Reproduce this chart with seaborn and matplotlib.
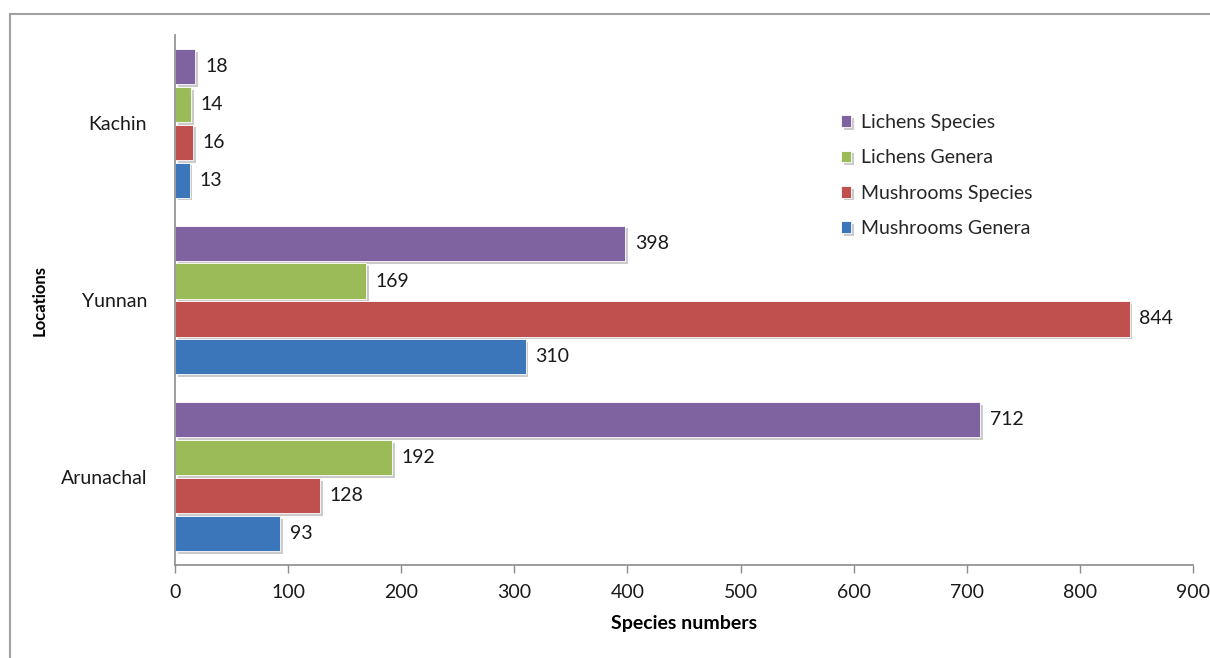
import matplotlib
matplotlib.use("Agg")
import matplotlib.pyplot as plt
import matplotlib.patheffects as pe
from matplotlib.patches import Rectangle
import seaborn as sns
import pandas as pd

locations = ["Kachin", "Yunnan", "Arunachal"]
series = ["Lichens Species", "Lichens Genera", "Mushrooms Species", "Mushrooms Genera"]
lichens_species = [18, 398, 712]
lichens_genera = [14, 169, 192]
mushrooms_species = [16, 844, 128]
mushrooms_genera = [13, 310, 93]
colors = ["#7F63A1", "#9BBB59", "#C0504D", "#3A76B9"]
x_ticks = [0, 100, 200, 300, 400, 500, 600, 700, 800, 900]

values = [lichens_species, lichens_genera, mushrooms_species, mushrooms_genera]
rows = []
for s, vals in zip(series, values):
    for loc, v in zip(locations, vals):
        rows.append({"Location": loc, "Series": s, "Value": v})
df = pd.DataFrame(rows)

sns.set_theme(style="white")
plt.rcParams["font.family"] = ["Lato", "DejaVu Sans"]

fig = plt.figure(figsize=(12.1, 6.58), dpi=100)
ax = fig.add_axes([175/1210, 1-565/658, (1193-175)/1210, (565-35)/658])

sns.barplot(data=df, y="Location", x="Value", hue="Series", order=locations,
            hue_order=series, palette=colors, orient="h", width=0.857, gap=0.07,
            ax=ax, saturation=1, edgecolor="white", linewidth=0.6, errorbar=None)

for p in ax.patches:
    p.set_path_effects([pe.SimplePatchShadow(offset=(2, -2), shadow_rgbFace="#999999", alpha=0.5), pe.Normal()])

for c in ax.containers:
    ax.bar_label(c, padding=7, fontsize=14, color="#1a1a1a")

ax.set_xlim(0, 900)
ax.set_ylim(2.5, -0.5)
ax.set_xticks(x_ticks)
ax.tick_params(axis="x", which="both", bottom=True, length=6, width=1, color="#8c8c8c",
               labelsize=14, labelcolor="#1a1a1a", pad=8)
ax.tick_params(axis="y", left=False, labelsize=14, labelcolor="#1a1a1a", pad=14)
for sp in ["top", "right"]:
    ax.spines[sp].set_visible(False)
for sp in ["left", "bottom"]:
    ax.spines[sp].set_color("#8c8c8c")
    ax.spines[sp].set_linewidth(1.2)

ax.set_xlabel("Species numbers", fontsize=14, fontweight="bold", color="#000000")
ax.xaxis.set_label_coords(0.5, -(624 - 565) / 530, transform=ax.transAxes)
ax.set_ylabel("Locations", fontsize=12, fontweight="bold", color="#000000")
ax.yaxis.set_label_coords(-(175 - 40) / 1018, 0.5, transform=ax.transAxes)
ax.xaxis.label.set_va("center")
ax.yaxis.label.set_va("center")

leg = ax.legend(loc="center left", bbox_to_anchor=(658/1018, 1 - (175.5 - 35)/530), frameon=False,
                fontsize=14, handlelength=0.55, handleheight=0.55, handletextpad=0.5,
                labelspacing=0.95, borderaxespad=0)

fig.patches.append(Rectangle((10/1210, -0.1), 1.2, 1.1 - 14/658, transform=fig.transFigure,
                             fill=False, edgecolor="#a0a0a0", linewidth=1.5, clip_on=False))
fig.savefig("out.png", dpi=100)
